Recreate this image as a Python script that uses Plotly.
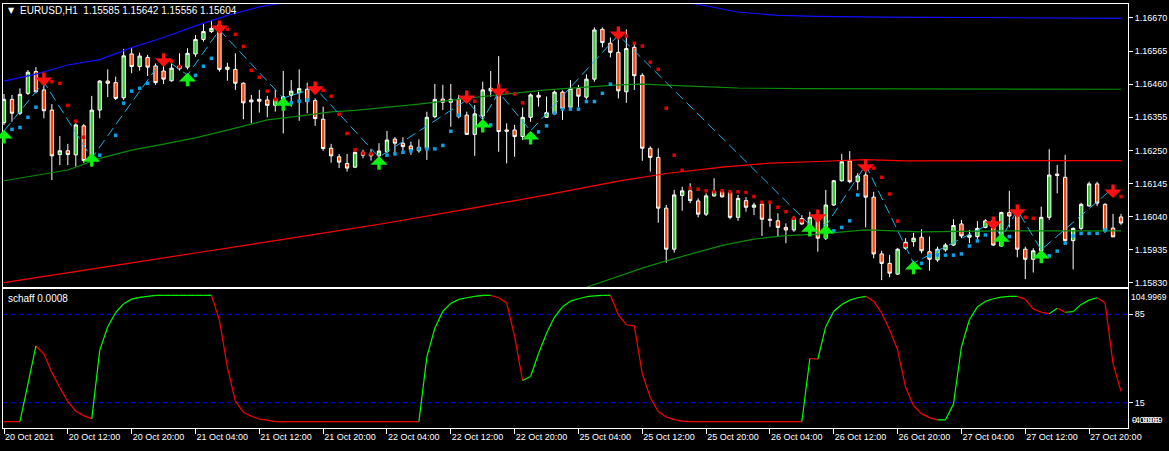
import plotly.graph_objects as go

FONT = "Liberation Sans, Arial, sans-serif"

# ---------------- data ----------------
# bar 0 = 20 Oct 2021 04:00 (H1), weekend removed
tick_bars = [0, 8, 16, 24, 32, 40, 48, 56, 64, 72, 80, 88, 96, 104, 112, 120, 128, 136]
tick_text = ["20 Oct 2021", "20 Oct 12:00", "20 Oct 20:00", "21 Oct 04:00", "21 Oct 12:00",
             "21 Oct 20:00", "22 Oct 04:00", "22 Oct 12:00", "22 Oct 20:00", "25 Oct 04:00",
             "25 Oct 12:00", "25 Oct 20:00", "26 Oct 04:00", "26 Oct 12:00", "26 Oct 20:00",
             "27 Oct 04:00", "27 Oct 12:00", "27 Oct 20:00"]
price_ticks = [1.15830, 1.15935, 1.16040, 1.16145, 1.16250, 1.16355, 1.16460, 1.16565, 1.16670]

opens = [1.16338,1.16412,1.16368,1.16431,1.16500,1.16442,1.16378,1.16237,1.16249,1.16236,
 1.16328,1.16236,1.16378,1.16470,1.16465,1.16417,1.16556,1.16516,1.16545,1.16518,
 1.16502,1.16471,1.16518,1.16514,1.16556,1.16602,1.16627,1.16648,1.16507,1.16507,
 1.16463,1.16404,1.16412,1.16410,1.16393,1.16393,1.16425,1.16433,1.16444,1.16408,
 1.16349,1.16257,1.16230,1.16209,1.16197,1.16244,1.16239,1.16233,1.16246,1.16286,
 1.16273,1.16264,1.16249,1.16257,1.16357,1.16413,1.16403,1.16413,1.16362,1.16301,
 1.16359,1.16439,1.16442,1.16315,1.16315,1.16294,1.16355,1.16425,1.16355,1.16367,
 1.16435,1.16387,1.16447,1.16419,1.16476,1.16634,1.16590,1.16561,1.16436,1.16577,
 1.16488,1.16257,1.16228,1.16067,1.15937,1.16107,1.16122,1.16090,1.16048,1.16106,
 1.16119,1.16117,1.16038,1.16091,1.16070,1.16080,1.16032,1.16027,1.16006,1.15998,
 1.16034,1.15998,1.16038,1.15972,1.16077,1.16154,1.16217,1.16151,1.16172,1.16102,
 1.15922,1.15892,1.15858,1.15940,1.15961,1.15975,1.15929,1.15903,1.15935,1.15950,
 1.16017,1.15975,1.15977,1.16006,1.16027,1.15947,1.16053,1.16053,1.15937,1.15905,
 1.15932,1.16038,1.16175,1.16165,1.15964,1.16003,1.16074,1.16144,1.16079,1.16004,
 1.16039]
highs = [1.16429,1.16426,1.16447,1.16505,1.16514,1.16468,1.16397,1.16296,1.16271,1.16336,
 1.16334,1.16423,1.16473,1.16507,1.16484,1.16572,1.16577,1.16560,1.16553,1.16526,
 1.16526,1.16526,1.16558,1.16574,1.16616,1.16653,1.16664,1.16658,1.16528,1.16558,
 1.16466,1.16426,1.16442,1.16423,1.16442,1.16502,1.16473,1.16507,1.16465,1.16415,
 1.16389,1.16271,1.16239,1.16239,1.16246,1.16252,1.16254,1.16273,1.16312,1.16292,
 1.16292,1.16278,1.16285,1.16373,1.16461,1.16458,1.16461,1.16426,1.16373,1.16394,
 1.16468,1.16502,1.16549,1.16336,1.16331,1.16386,1.16431,1.16436,1.16421,1.16440,
 1.16440,1.16473,1.16458,1.16491,1.16640,1.16640,1.16608,1.16637,1.16634,1.16588,
 1.16495,1.16263,1.16257,1.16077,1.16125,1.16135,1.16146,1.16098,1.16114,1.16162,
 1.16125,1.16125,1.16109,1.16102,1.16084,1.16088,1.16083,1.16051,1.16019,1.16042,
 1.16045,1.16056,1.16053,1.16125,1.16156,1.16239,1.16248,1.16178,1.16211,1.16119,
 1.15932,1.15919,1.15940,1.15972,1.15989,1.16000,1.15977,1.15945,1.15956,1.16032,
 1.16030,1.15998,1.16026,1.16032,1.16038,1.16056,1.16122,1.16074,1.15945,1.15940,
 1.16072,1.16254,1.16204,1.16236,1.16006,1.16084,1.16151,1.16151,1.16083,1.16049,
 1.16049]
lows = [1.16331,1.16341,1.16362,1.16426,1.16431,1.16352,1.16156,1.16204,1.16204,1.16199,
 1.16210,1.16199,1.16352,1.16419,1.16410,1.16410,1.16495,1.16503,1.16486,1.16458,
 1.16461,1.16468,1.16503,1.16507,1.16547,1.16595,1.16622,1.16500,1.16471,1.16442,
 1.16349,1.16336,1.16370,1.16355,1.16373,1.16304,1.16389,1.16344,1.16368,1.16328,
 1.16249,1.16211,1.16194,1.16183,1.16194,1.16225,1.16218,1.16225,1.16241,1.16241,
 1.16241,1.16236,1.16243,1.16220,1.16352,1.16378,1.16325,1.16352,1.16299,1.16233,
 1.16331,1.16420,1.16246,1.16209,1.16230,1.16283,1.16341,1.16389,1.16353,1.16362,
 1.16347,1.16378,1.16388,1.16412,1.16468,1.16577,1.16545,1.16415,1.16401,1.16442,
 1.16217,1.16183,1.16021,1.15894,1.15926,1.16059,1.16083,1.16038,1.16042,1.16103,
 1.16101,1.16032,1.16027,1.16056,1.16045,1.15979,1.16008,1.15977,1.15956,1.15992,
 1.16014,1.15982,1.15929,1.15966,1.16074,1.16151,1.16146,1.16125,1.16006,1.15908,
 1.15839,1.15848,1.15855,1.15935,1.15945,1.15924,1.15869,1.15897,1.15929,1.15947,
 1.15972,1.15956,1.15968,1.16003,1.15947,1.15945,1.16006,1.15911,1.15842,1.15863,
 1.15924,1.16030,1.16114,1.15961,1.15873,1.15998,1.16072,1.16074,1.15989,1.15976,
 1.16014]
closes = [1.16412,1.16368,1.16428,1.16498,1.16436,1.16376,1.16233,1.16249,1.16237,1.16331,
 1.16218,1.16378,1.16470,1.16463,1.16415,1.16550,1.16516,1.16549,1.16514,1.16465,
 1.16476,1.16511,1.16509,1.16558,1.16602,1.16627,1.16637,1.16507,1.16514,1.16463,
 1.16401,1.16410,1.16406,1.16393,1.16412,1.16420,1.16438,1.16446,1.16405,1.16351,
 1.16256,1.16233,1.16213,1.16194,1.16244,1.16235,1.16233,1.16248,1.16283,1.16273,
 1.16262,1.16252,1.16260,1.16355,1.16412,1.16403,1.16412,1.16357,1.16301,1.16366,
 1.16442,1.16447,1.16310,1.16311,1.16294,1.16355,1.16426,1.16419,1.16370,1.16435,
 1.16383,1.16447,1.16422,1.16476,1.16632,1.16592,1.16561,1.16439,1.16573,1.16487,
 1.16257,1.16228,1.16067,1.15937,1.16109,1.16122,1.16091,1.16048,1.16106,1.16119,
 1.16103,1.16038,1.16098,1.16070,1.16077,1.16032,1.16029,1.16006,1.15998,1.16034,
 1.16017,1.16038,1.15972,1.16077,1.16154,1.16214,1.16151,1.16169,1.16102,1.15922,
 1.15892,1.15861,1.15937,1.15959,1.15972,1.15932,1.15905,1.15937,1.15950,1.16012,
 1.15979,1.15982,1.16003,1.16027,1.15950,1.16053,1.16042,1.15937,1.15905,1.15932,
 1.16038,1.16172,1.16171,1.15964,1.16003,1.16079,1.16144,1.16083,1.15996,1.15976,
 1.16020]
bars = list(range(len(opens)))

# moving-average style lines (sampled bars)
blue_ma_bars = [0, 4, 8, 12, 16, 20, 24, 28, 32, 36, 37, 86, 87, 90, 92, 97, 102, 110, 120, 130, 140]
blue_ma_vals = [1.16470, 1.16492, 1.16521, 1.16538, 1.16576, 1.16608, 1.16645, 1.16678, 1.16705, 1.16722,
                None, 1.16718, 1.16713, 1.16700, 1.16689, 1.16678, 1.16675, 1.16673, 1.16672, 1.16670, 1.16669]
green_ma_bars = [0, 8, 12, 16, 20, 24, 29, 33, 37, 41, 44, 52, 60, 68, 77, 80, 86, 92, 100, 140]
green_ma_vals = [1.16154, 1.16188, 1.16225, 1.16251, 1.16270, 1.16290, 1.16321, 1.16347, 1.16359, 1.16372,
                 1.16377, 1.16397, 1.16421, 1.16442, 1.16458, 1.16460, 1.16454, 1.16448, 1.16446, 1.16444]
green_low_bars = [70, 77, 80, 83, 86, 90, 94, 98, 102, 108, 115, 125, 140]
green_low_vals = [1.15790, 1.15852, 1.15877, 1.15900, 1.15922, 1.15949, 1.15969, 1.15980, 1.15985,
                  1.15998, 1.15992, 1.15995, 1.15995]
red_ma_bars = [0, 12, 24, 36, 48, 58, 68, 77, 83, 90, 96, 102, 108, 113, 140]
red_ma_vals = [1.15831, 1.15877, 1.15925, 1.15972, 1.16020, 1.16064, 1.16109, 1.16153, 1.16177, 1.16197,
               1.16210, 1.16215, 1.16221, 1.16217, 1.16218]

# zigzag (dashed cyan)
zz_bars = [0, 5, 11, 20, 23, 27, 35, 39, 47, 58, 60, 62, 66, 77, 101, 102, 103, 108, 114, 124, 125, 127, 130, 139]
zz_vals = [1.16312, 1.16467, 1.16226, 1.16543, 1.16489, 1.16632, 1.16416, 1.16448, 1.16229, 1.16410,
           1.16347, 1.16435, 1.16312, 1.16616, 1.16014, 1.16042, 1.16011, 1.16204, 1.15893, 1.16023,
           1.15972, 1.16061, 1.15935, 1.16131]

# signal arrows (tip positions)
sell_bars = [5, 20, 27, 39, 58, 62, 77, 102, 108, 124, 127, 139]
sell_vals = [1.16454, 1.16515, 1.16619, 1.16426, 1.16397, 1.16419, 1.16600, 1.16020, 1.16179, 1.15998, 1.16036, 1.16099]
buy_bars = [0, 11, 23, 35, 47, 60, 66, 101, 103, 114, 125, 130]
buy_vals = [1.16315, 1.16242, 1.16496, 1.16419, 1.16232, 1.16350, 1.16312, 1.16020, 1.16014, 1.15900, 1.15988, 1.15935]

# trailing dots
red_dot_bars = [6, 7, 8, 9, 10, 21, 22, 28, 29, 30, 31, 32, 33, 34, 40, 41, 42, 43, 44, 45, 46, 59, 63, 64, 65,
                78, 79, 80, 81, 82, 83, 84, 85, 86, 87, 88, 89, 90, 91, 92, 93, 94, 95, 96, 97, 98, 99, 100,
                109, 110, 111, 112, 113, 128, 129, 140]
red_dot_vals = [1.16468, 1.16463, 1.16393, 1.16343, 1.16292, 1.16533, 1.16516, 1.16634, 1.16618, 1.16580,
                1.16504, 1.16482, 1.16438, 1.16412, 1.16441, 1.16422, 1.16365, 1.16304, 1.16252, 1.16241,
                1.16239, 1.16406, 1.16434, 1.16429, 1.16401, 1.16613, 1.16590, 1.16581, 1.16530, 1.16507,
                1.16384, 1.16235, 1.16187, 1.16130, 1.16127, 1.16122, 1.16119, 1.16122, 1.16119, 1.16119,
                1.16117, 1.16104, 1.16086, 1.16086, 1.16070, 1.16056, 1.16035, 1.16027, 1.16194, 1.16165,
                1.16112, 1.16026, 1.15950, 1.16038, 1.16035, 1.16104]
blue_dot_bars = [1, 2, 3, 4, 12, 14, 15, 16, 17, 18, 24, 25, 26, 36, 37, 38, 48, 49, 50, 51, 52, 53, 54, 55, 56, 57,
                 61, 67, 68, 69, 70, 71, 72, 73, 74, 75, 76, 104, 105, 106, 107, 115, 116, 117, 118, 119, 120,
                 121, 122, 123, 125, 126, 131, 132, 133, 134, 135, 136, 137, 138]
blue_dot_vals = [1.16317, 1.16323, 1.16355, 1.16387, 1.16235, 1.16298, 1.16400, 1.16438, 1.16447, 1.16463,
                 1.16488, 1.16517, 1.16542, 1.16401, 1.16406, 1.16410, 1.16235, 1.16239, 1.16244, 1.16249,
                 1.16255, 1.16255, 1.16255, 1.16266, 1.16311, 1.16362, 1.16331, 1.16309, 1.16328, 1.16368,
                 1.16381, 1.16381, 1.16381, 1.16405, 1.16405, 1.16431, 1.16460, 1.15995, 1.16006, 1.16027,
                 1.16109, 1.15892, 1.15916, 1.15919, 1.15918, 1.15918, 1.15922, 1.15947, 1.15963, 1.15982,
                 1.15977, 1.15977, 1.15916, 1.15931, 1.15956, 1.15979, 1.15987, 1.15987, 1.15987, 1.15998]

# Schaff trend cycle (lower window)
schaff = [0, 0, 0, 29.7, 59.9, 53.7, 39.0, 27.0, 15.8, 8.3, 4.8, 2.2, 56.4, 75.1, 86.4, 93.3, 97.0, 98.4, 99.2,
          100, 100, 100, 100, 100, 100, 100, 100, 80.4, 43.0, 16.3, 7.5, 4.3, 2.1, 1.3,
          0, 0, 0, 0, 0, 0, 0, 0, 0, 0, 0, 0, 0, 0, 0, 0, 0, 0, 0,
          51.3, 74.0, 87.4, 93.6, 96.8, 98.1, 99.2, 100, 100, 98.1, 94.1, 67.4, 32.6, 35.8, 54.0, 70.0,
          82.8, 90.9, 95.4, 97.3, 98.9, 99.5, 100, 100, 84.8, 76.7, 75.9, 37.9, 19.2, 8.0, 3.8, 1.6, 0.5, 0.1,
          0, 0, 0, 0, 0, 0, 0, 0, 0, 0, 0, 0, 0, 0,
          50.0, 49.5, 75.4, 87.4, 92.8, 96.2, 98.1, 99.2, 95.4, 86.0, 72.7, 56.7, 27.3, 12.6, 6.4, 3.2, 1.4,
          1.5, 13.9, 59.3, 80.7, 90.9, 95.2, 97.3, 98.6, 99.2, 99.2, 96.8, 89.3, 86.6, 85.5, 89.8, 86.6,
          87.1, 92.8, 96.2, 98.1, 94.1, 46.0, 24.0]
schaff_levels = [85, 15]
schaff_max, schaff_min = 104.9969, -4.9969

# ---------------- geometry ----------------
W, H = 1169, 451
ML, MR, MT, MB = 2, 39, 4, 23
main_dom = [0.3326, 1.0]
sub_dom = [0.0, 0.3278]
x_range = [-0.125, 140.875]
y_range = [1.158172, 1.167143]

fig = go.Figure()

fig.add_trace(go.Candlestick(
    x=bars, open=opens, high=highs, low=lows, close=closes,
    increasing=dict(line=dict(color="white", width=1), fillcolor="#32CD32"),
    decreasing=dict(line=dict(color="white", width=1), fillcolor="#FF4500"),
    whiskerwidth=0, hoverinfo="skip", showlegend=False, xaxis="x2", yaxis="y"))

for bx, vy, col in [(blue_ma_bars, blue_ma_vals, "#1010FF"),
                    (green_ma_bars, green_ma_vals, "#0A8C0A"),
                    (green_low_bars, green_low_vals, "#0A8C0A"),
                    (red_ma_bars, red_ma_vals, "#FF0000")]:
    fig.add_trace(go.Scatter(x=bx, y=vy, mode="lines", line=dict(color=col, width=1.2),
                             connectgaps=False, hoverinfo="skip", showlegend=False,
                             xaxis="x2", yaxis="y"))

fig.add_trace(go.Scatter(x=zz_bars, y=zz_vals, mode="lines",
                         line=dict(color="#1AB2F0", width=1, dash="10px,5px"),
                         hoverinfo="skip", showlegend=False, xaxis="x2", yaxis="y"))

fig.add_trace(go.Scatter(x=red_dot_bars, y=red_dot_vals, mode="markers",
                         marker=dict(symbol="square", size=3.5, color="#E80000"),
                         hoverinfo="skip", showlegend=False, xaxis="x2", yaxis="y"))
fig.add_trace(go.Scatter(x=blue_dot_bars, y=blue_dot_vals, mode="markers",
                         marker=dict(symbol="square", size=3.5, color="#0AA2E8"),
                         hoverinfo="skip", showlegend=False, xaxis="x2", yaxis="y"))

# schaff line coloured by direction
gx, gy, rx, ry = [], [], [], []
rising = False
for i in range(1, len(schaff)):
    d = schaff[i] - schaff[i - 1]
    if d > 0:
        rising = True
    elif d < 0:
        rising = False
    tx, ty = (gx, gy) if rising else (rx, ry)
    tx += [bars[i - 1], bars[i], None]
    ty += [schaff[i - 1], schaff[i], None]
fig.add_trace(go.Scatter(x=rx, y=ry, mode="lines", line=dict(color="#FF0000", width=1.2),
                         hoverinfo="skip", showlegend=False, xaxis="x", yaxis="y2"))
fig.add_trace(go.Scatter(x=gx, y=gy, mode="lines", line=dict(color="#00FF00", width=1.2),
                         hoverinfo="skip", showlegend=False, xaxis="x", yaxis="y2"))

shapes = []
for lv in schaff_levels:
    shapes.append(dict(type="line", xref="x domain", x0=0, x1=1, yref="y2", y0=lv, y1=lv,
                       line=dict(color="#0000FF", width=1, dash="5px,3px"), layer="below"))

annotations = []
for bx, by in zip(sell_bars, sell_vals):
    annotations.append(dict(x=bx, y=by, xref="x2", yref="y", text="", showarrow=True,
                            ax=0, ay=-15, arrowhead=1, arrowsize=0.85, arrowwidth=3.4,
                            arrowcolor="#FF1010", standoff=0))
for bx, by in zip(buy_bars, buy_vals):
    annotations.append(dict(x=bx, y=by, xref="x2", yref="y", text="", showarrow=True,
                            ax=0, ay=15, arrowhead=1, arrowsize=0.85, arrowwidth=3.4,
                            arrowcolor="#10F010", standoff=0))

txt = dict(family=FONT, size=10, color="white")
small = dict(family=FONT, size=9, color="white")
annotations += [
    dict(xref="paper", yref="paper", x=0.0025, y=0.9835, xanchor="left", yanchor="middle",
         text="▼", showarrow=False, font=dict(family="DejaVu Sans", size=8, color="white")),
    dict(xref="paper", yref="paper", x=0.0135, y=0.9835, xanchor="left", yanchor="middle",
         text="EURUSD,H1  1.15585 1.15642 1.15556 1.15604", showarrow=False, font=txt),
    dict(xref="paper", yref="y2", x=0.003, y=schaff_max, xanchor="left", yanchor="top", yshift=-2,
         text="schaff 0.0008", showarrow=False, font=txt),
    dict(xref="paper", yref="y2", x=1.0, y=schaff_max, xanchor="left", yanchor="top", xshift=1, yshift=-1,
         text="104.9969", showarrow=False, font=dict(family=FONT, size=8.5, color="white")),
    dict(xref="paper", yref="y2", x=1.0, y=schaff_min, xanchor="left", yanchor="bottom", xshift=2, yshift=1,
         text="0.0008", showarrow=False, font=small),
    dict(xref="paper", yref="y2", x=1.0, y=schaff_min, xanchor="left", yanchor="bottom", xshift=2, yshift=1,
         text="-4.9969", showarrow=False, font=small),
]

axis_common = dict(showgrid=False, zeroline=False, showline=True, linecolor="white", linewidth=1,
                   mirror=True)
fig.update_layout(
    width=W, height=H, margin=dict(l=ML, r=MR, t=MT, b=MB),
    paper_bgcolor="black", plot_bgcolor="black", showlegend=False, hovermode=False,
    boxgap=0.4,
    xaxis=dict(domain=[0, 1], anchor="y2", range=x_range, tickmode="array", tickvals=tick_bars,
               ticktext=tick_text, ticks="outside", ticklen=5, tickcolor="white",
               ticklabelposition="outside right", tickfont=small,
               rangeslider=dict(visible=False), **axis_common),
    xaxis2=dict(domain=[0, 1], anchor="y", matches="x", range=x_range, showticklabels=False,
                ticks="", rangeslider=dict(visible=False), **axis_common),
    yaxis=dict(domain=main_dom, anchor="x2", range=y_range, side="right", tickmode="array",
               tickvals=price_ticks, ticktext=["%.5f" % p for p in price_ticks],
               ticks="outside", ticklen=4, tickcolor="white", tickfont=small, **axis_common),
    yaxis2=dict(domain=sub_dom, anchor="x", range=[schaff_min, schaff_max], side="right",
                tickmode="array", tickvals=schaff_levels, ticktext=[str(v) for v in schaff_levels],
                ticks="outside", ticklen=4, tickcolor="white", tickfont=small, **axis_common),
    shapes=shapes, annotations=annotations,
)

fig.write_html("out.html", config={"displayModeBar": False},
               post_script="document.body.style.margin='0';document.body.style.overflow='hidden';")
